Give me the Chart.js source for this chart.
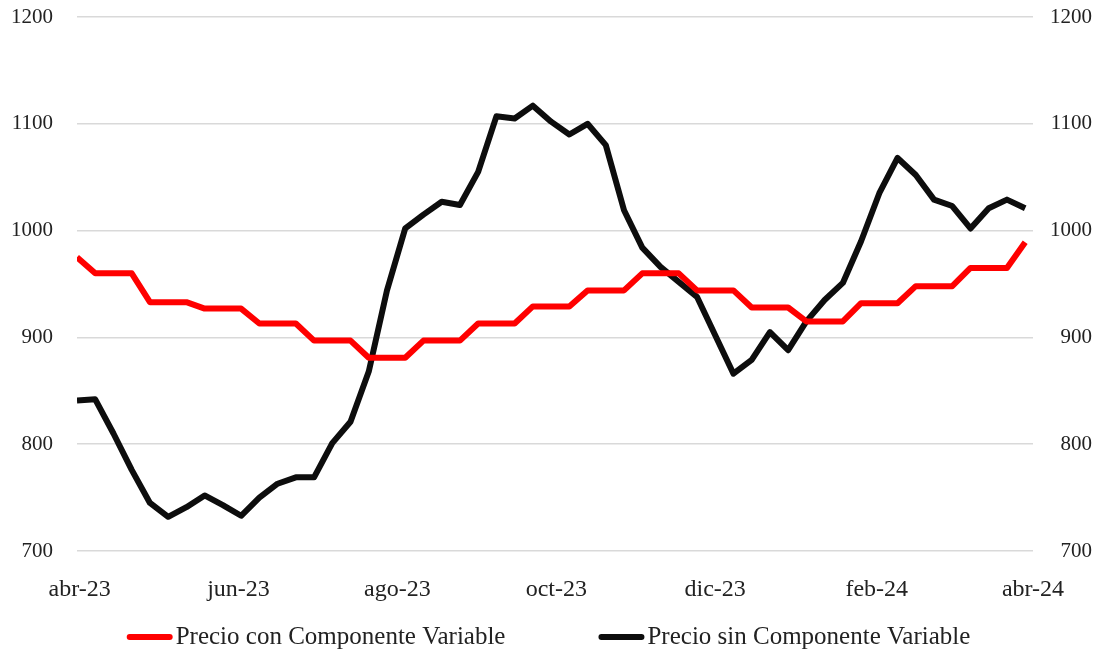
<!DOCTYPE html>
<html>
<head>
<meta charset="utf-8">
<script src="https://cdn.jsdelivr.net/npm/chart.js@4.4.1/dist/chart.umd.min.js"></script>
<style>
  html, body { margin: 0; padding: 0; background: #fff; }
</style>
</head>
<body>
<canvas id="precioChart" width="1109" height="654"></canvas>
<script>
// weekly prices, first week ending 31-mar-23
const firstWeek = '2023-03-31';

const conComponente = [
  975, 960, 960, 960, 933, 933, 933, 927, 927, 927,
  913, 913, 913, 897, 897, 897, 881, 881, 881, 897,
  897, 897, 913, 913, 913, 929, 929, 929, 944, 944,
  944, 960, 960, 960, 944, 944, 944, 928, 928, 928,
  915, 915, 915, 932, 932, 932, 948, 948, 948, 965,
  965, 965, 989
];

const sinComponente = [
  841, 842, 810, 776, 745, 732, 741, 752, 743, 733,
  750, 763, 769, 769, 801, 821, 868, 944, 1002, 1015,
  1027, 1024, 1055, 1107, 1105, 1117, 1102, 1090, 1100, 1080,
  1019, 984, 966, 952, 938, 902, 866, 879, 905, 888,
  915, 935, 951, 990, 1035, 1068, 1052, 1029, 1023, 1002,
  1021, 1029, 1021
];

const seriesNames = ['Precio con Componente Variable', 'Precio sin Componente Variable'];
const seriesColors = ['#ff0000', '#0d0d0d'];

// x axis ticks every two months
const tickDates = ['2023-04-01', '2023-06-01', '2023-08-01', '2023-10-01', '2023-12-01', '2024-02-01', '2024-04-01'];
const tickLabels = ['abr-23', 'jun-23', 'ago-23', 'oct-23', 'dic-23', 'feb-24', 'abr-24'];

const yMin = 700;
const yMax = 1200;
const yStep = 100;


// days counted from the first tick date
const origin = Date.parse(tickDates[0]);
function dayOf(dateStr) {
  return Math.round((Date.parse(dateStr) - origin) / 864e5);
}

const weekDays = conComponente.map((v, i) => dayOf(firstWeek) + 7 * i);
const tickDays = tickDates.map(dayOf);

const toPoints = values => values.map((v, i) => ({ x: weekDays[i], y: v }));

const serif = '"Liberation Serif", "Times New Roman", serif';
const textColor = '#222';

// fixed axis widths, no extra padding above/below
function fixWidth(w) {
  return scale => {
    scale.width = w;
    scale.paddingTop = 0;
    scale.paddingBottom = 0;
  };
}


// legend drawn under the x labels
const bottomLegend = {
  id: 'bottomLegend',
  afterDraw(chart) {
    const ctx = chart.ctx;
    ctx.save();
    ctx.font = '25px ' + serif;
    ctx.textBaseline = 'middle';
    const items = chart.data.datasets.map(ds => ({
      text: ds.label,
      color: ds.borderColor,
      w: ctx.measureText(ds.label).width
    }));
    const sample = 46, gap = 3, between = 93;
    const total = items.reduce((s, it) => s + sample + gap + it.w, 0) + between * (items.length - 1);
    let x = chart.width / 2 - 6 - total / 2;
    const y = 637;
    items.forEach(it => {
      ctx.strokeStyle = it.color;
      ctx.lineWidth = 6;
      ctx.lineCap = 'round';
      ctx.beginPath();
      ctx.moveTo(x + 3, y);
      ctx.lineTo(x + sample - 3, y);
      ctx.stroke();
      ctx.fillStyle = textColor;
      ctx.fillText(it.text, x + sample + gap, y);
      x += sample + gap + it.w + between;
    });
    ctx.restore();
  }
};


const ctx = document.getElementById('precioChart').getContext('2d');

new Chart(ctx, {
  type: 'line',
  data: {
    datasets: [
      {
        label: seriesNames[0],
        data: toPoints(conComponente),
        borderColor: seriesColors[0],
        backgroundColor: seriesColors[0],
        borderWidth: 6,
        pointRadius: 0,
        tension: 0,
        borderJoinStyle: 'round',
        yAxisID: 'y'
      },
      {
        label: seriesNames[1],
        data: toPoints(sinComponente),
        borderColor: seriesColors[1],
        backgroundColor: seriesColors[1],
        borderWidth: 6,
        pointRadius: 0,
        tension: 0,
        borderJoinStyle: 'round',
        yAxisID: 'y'
      }
    ]
  },
  options: {
    responsive: false,
    animation: false,
    layout: {
      padding: { top: 17, right: 17, bottom: 0, left: 0 }
    },
    plugins: {
      legend: { display: false },
      tooltip: { enabled: false }
    },
    scales: {
      x: {
        type: 'linear',
        min: dayOf(firstWeek),
        max: tickDays[tickDays.length - 1],
        afterBuildTicks: scale => {
          scale.ticks = tickDays.map(d => ({ value: d }));
        },
        afterFit: scale => { scale.height = 103; },
        grid: { display: false, drawTicks: false },
        border: { display: false },
        ticks: {
          autoSkip: false,
          maxRotation: 0,
          padding: 24,
          color: textColor,
          font: { family: serif, size: 24 },
          callback: value => tickLabels[tickDays.indexOf(value)]
        }
      },
      y: {
        position: 'left',
        min: yMin,
        max: yMax,
        afterFit: fixWidth(77),
        grid: { color: '#d9d9d9', lineWidth: 1.5, drawTicks: false },
        border: { display: false },
        ticks: {
          stepSize: yStep,
          padding: 24,
          color: textColor,
          font: { family: serif, size: 21 },
          callback: value => String(value)
        }
      },
      y2: {
        position: 'right',
        min: yMin,
        max: yMax,
        afterFit: fixWidth(59),
        grid: { display: false, drawTicks: false },
        border: { display: false },
        ticks: {
          stepSize: yStep,
          crossAlign: 'far',
          color: textColor,
          font: { family: serif, size: 21 },
          callback: value => String(value)
        }
      }
    }
  },
  plugins: [bottomLegend]
});
</script>
</body>
</html>
